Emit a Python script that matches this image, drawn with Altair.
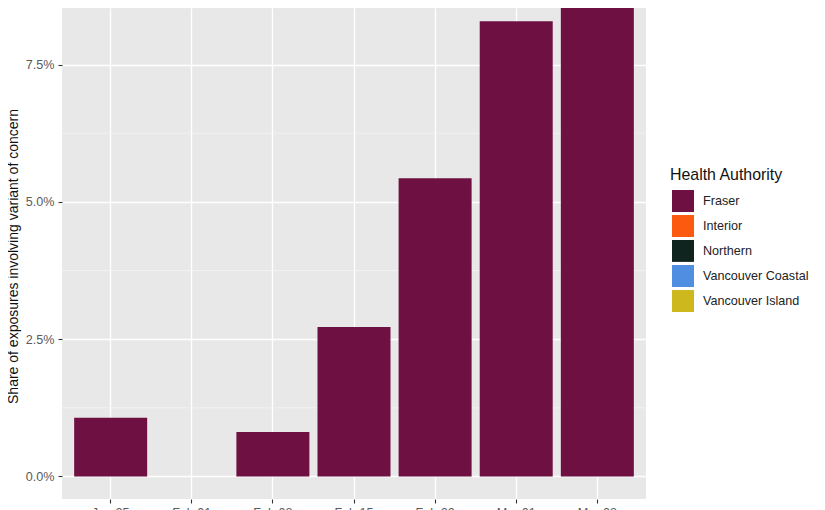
import altair as alt
import pandas as pd

weeks = ["Jan 25", "Feb 01", "Feb 08", "Feb 15", "Feb 22", "Mar 01", "Mar 08"]
shares = [0.0107, 0.0, 0.0081, 0.0272, 0.0543, 0.0829, 0.0862]
authorities = ["Fraser", "Interior", "Northern", "Vancouver Coastal", "Vancouver Island"]
colors = ["#6e1042", "#fc5a0e", "#10241f", "#4f8ee0", "#cdb91e"]
major = [0.0, 0.025, 0.05, 0.075]
minor = [0.0125, 0.0375, 0.0625]

df = pd.DataFrame({"week": weeks, "share": shares, "authority": ["Fraser"] * len(weeks)})
df_minor = pd.DataFrame({"v": minor})

y_scale = alt.Scale(domain=[-0.0041, 0.0853], nice=False, zero=False)
x_scale = alt.Scale(domain=weeks, paddingInner=0.1, paddingOuter=0.15)

y_axis = alt.Axis(
    title="Share of exposures involving variant of concern", values=major, format=".1%",
    grid=True, gridColor="#ffffff", gridWidth=1.4,
    tickColor="#333333", tickSize=4, tickWidth=1.1, domain=False,
    labelColor="#5a5a5a", labelFontSize=12.6, labelFont="Liberation Sans", labelPadding=4,
    titleColor="#111111", titleFontSize=14, titleFontWeight="normal",
    titleFont="Liberation Sans", titleX=-42, titleY=248)

minor_lines = alt.Chart(df_minor).mark_rule(color="#f5f5f5", strokeWidth=0.8).encode(
    y=alt.Y("v:Q", scale=y_scale, axis=y_axis, title=y_axis.title)
)

bars = alt.Chart(df).mark_bar(clip=True, cornerRadius=0).encode(
    x=alt.X("week:N", scale=x_scale, sort=weeks, axis=alt.Axis(
        title=None, labelAngle=0, grid=True, gridColor="#ffffff", gridWidth=1.4,
        tickColor="#333333", tickSize=4, tickWidth=1.1, domain=False,
        labelColor="#5a5a5a", labelFontSize=12.6, labelFont="Liberation Sans", labelPadding=3)),
    y=alt.Y("share:Q", scale=y_scale, axis=y_axis),
    y2=alt.Y2(datum=0),
    color=alt.Color("authority:N", scale=alt.Scale(domain=authorities, range=colors), legend=alt.Legend(
        title="Health Authority", orient="none", legendX=608, legendY=159,
        symbolType="square", symbolSize=484, symbolStrokeWidth=0, rowPadding=3,
        symbolOffset=2, symbolOpacity=1, labelFontSize=12.6, labelColor="#222222", labelFont="Liberation Sans",
        titleFont="Liberation Sans", titleFontSize=15.9, titleFontWeight="normal", titleColor="#111111",
        titlePadding=7, labelOffset=9, clipHeight=22)),
)

chart = (minor_lines + bars).properties(
    width=584, height=491,
    autosize=alt.AutoSizeParams(type="none"),
    padding={"left": 54, "top": 0, "right": 171, "bottom": 11},
    background="#ffffff",
).configure_view(fill="#e8e8e8", stroke=None)

chart.save("out.html", embed_options={"renderer": "svg", "actions": False})
